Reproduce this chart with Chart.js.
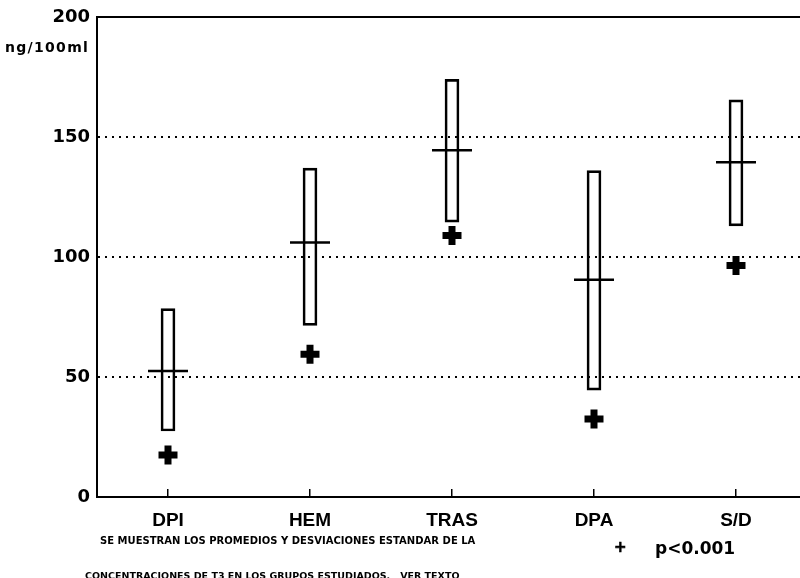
<!DOCTYPE html>
<html>
<head>
<meta charset="utf-8">
<script src="https://cdn.jsdelivr.net/npm/chart.js@4.4.1/dist/chart.umd.min.js"></script>
<style>
  body { margin: 0; background: #fff; overflow: hidden; width: 800px; height: 578px; position: relative; }
  #wrap { position: absolute; left: 0; top: 0; width: 810px; height: 578px; }
  .txt { position: absolute; font-family: "DejaVu Sans", sans-serif; font-weight: bold; color: #000; white-space: nowrap; }
</style>
</head>
<body>
<div id="wrap"><canvas id="chart" width="810" height="578"></canvas></div>
<div class="txt" style="left:5px; top:39px; font-size:14px; letter-spacing:1.3px;">ng/100ml</div>
<div class="txt" style="left:100px; top:535px; font-size:10px; letter-spacing:0.02px;">SE MUESTRAN LOS PROMEDIOS Y DESVIACIONES ESTANDAR DE LA</div>
<div class="txt" style="left:85px; top:570px; font-size:9.5px;">CONCENTRACIONES DE T3 EN LOS GRUPOS ESTUDIADOS.&nbsp;&nbsp; VER TEXTO</div>
<div class="txt" style="left:614px; top:538px; font-size:15px; -webkit-text-stroke:0.6px #000;">+</div>
<div class="txt" style="left:655px; top:538px; font-size:17px;">p&lt;0.001</div>
<script>
//.. groups and T3 values (ng/100ml)
const groups = ['DPI', 'HEM', 'TRAS', 'DPA', 'S/D'];
const lowSD  = [27.5, 71.5, 114.5, 44.5, 113];
const highSD = [78.5, 137, 174, 136, 165.5];
const means  = [52.5, 106, 144.5, 90.5, 139.5];
const marks  = [17.5, 59.5, 109, 32.5, 96.5];
const yTicks = [0, 50, 100, 150, 200];

const ranges = groups.map(function (g, i) { return [lowSD[i], highSD[i]]; });

const ctx = document.getElementById('chart').getContext('2d');
new Chart(ctx, {
    type: 'bar',
    data: {
        labels: groups,
        datasets: [{
            label: 'SD',
            data: ranges,
            backgroundColor: 'rgba(0,0,0,0)',
            borderColor: '#000',
            borderWidth: 2,
            borderSkipped: false,
            barThickness: 14
        }, {
            type: 'line',
            label: 'mean',
            data: means,
            showLine: false,
            pointStyle: 'line',
            pointRadius: 20,
            pointBorderWidth: 2.5,
            borderColor: '#000'
        }, {
            type: 'line',
            label: 'p<0.001',
            data: marks,
            showLine: false,
            pointStyle: 'cross',
            pointRadius: 9.5,
            pointBorderWidth: 7,
            borderColor: '#000'
        }]
    },
    options: {
        responsive: false,
        animation: false,
        events: [],
        layout: { autoPadding: false, padding: { left: 0, right: 3, top: 17, bottom: 0 } },
        plugins: { legend: { display: false }, tooltip: { enabled: false } },
        scales: {
            x: {
                grid: { display: true, drawOnChartArea: false, offset: false, tickLength: -8, color: '#000', lineWidth: 1.5 },
                border: { color: '#000', width: 2 },
                ticks: {
                    color: '#000',
                    padding: 20,
                    font: { family: "'Liberation Sans Narrow', 'Liberation Sans', sans-serif", size: 19, weight: 'bold' }
                },
                afterFit: function (s) { s.height = 81; }
            },
            x2: {
                type: 'category',
                position: 'top',
                grid: { display: false },
                border: { color: '#000', width: 2 },
                ticks: { display: false },
                afterFit: function (s) { s.height = 0; }
            },
            y: {
                min: 0,
                max: 200,
                afterBuildTicks: function (s) { s.ticks = yTicks.map(function (v) { return { value: v }; }); },
                grid: {
                    drawTicks: false,
                    lineWidth: 2,
                    color: function (c) { return (c.tick && (c.tick.value === 0 || c.tick.value === 200)) ? 'rgba(0,0,0,0)' : '#000'; }
                },
                border: { color: '#000', width: 2, dash: [2, 5] },
                ticks: {
                    color: '#000',
                    padding: 7,
                    font: { family: "'DejaVu Sans', sans-serif", size: 18, weight: 'bold' }
                },
                afterFit: function (s) { s.width = 97; s.paddingTop = 0; s.paddingBottom = 0; }
            }
        }
    }
});
</script>
</body>
</html>
